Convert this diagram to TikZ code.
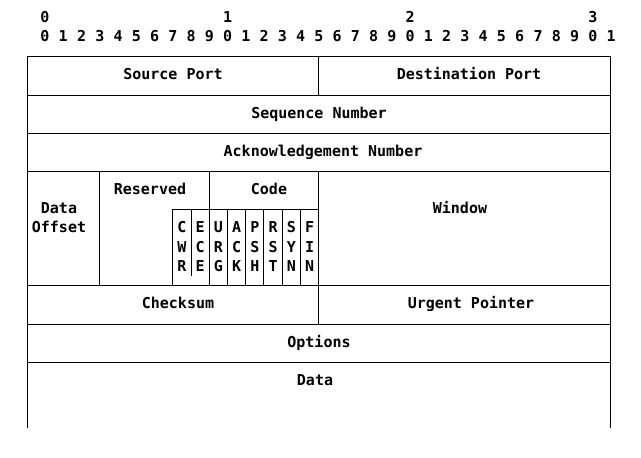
\documentclass[tikz,border=0pt]{standalone}
\usepackage{fontspec}
\setmonofont{DejaVu Sans Mono}
\begin{document}
\begin{tikzpicture}[x=1pt,y=-1pt,
  lbl/.style={font=\ttfamily\bfseries\fontsize{15}{18}\selectfont,inner sep=0pt,text height=10.9pt,text depth=0pt,anchor=center},
  grid/.style={line width=1pt,black}]
\useasboundingbox (0,0) rectangle (641,458);
\def\bx#1{27+18.23*#1}
% bit numbers
\foreach \t/\k in {0/0,1/10,2/20,3/30}
  \node[lbl] (ten\k) at ({45+18.26*\k},17) {\t};
\foreach \k in {0,...,31}{
  \pgfmathtruncatemacro{\d}{mod(\k,10)}
  \node[lbl] (bit\k) at ({45+18.26*\k},36) {\d};
}
% horizontal lines
\foreach \y in {56,95,133.5,171.7,285.7,324.2,362.4}
  \draw[grid] (27,\y) -- (610.3,\y);
\draw[grid] ({\bx{8}},209.3) -- ({\bx{16}},209.3);
% outer verticals
\draw[grid] (27,56) -- (27,428.3);
\draw[grid] (610.3,56) -- (610.3,428.3);
% inner verticals
\draw[grid] ({\bx{16}},56) -- ({\bx{16}},95);
\draw[grid] ({\bx{16}},171.7) -- ({\bx{16}},324.2);
\draw[grid] ({\bx{4}},171.7) -- ({\bx{4}},285.7);
\draw[grid] ({\bx{10}},171.7) -- ({\bx{10}},285.7);
\draw[grid] ({\bx{8}},209.3) -- ({\bx{8}},285.7);
\draw[grid] ({\bx{9}},209.3) -- ({\bx{9}},276);
\foreach \k in {11,...,15}
  \draw[grid] ({\bx{\k}},209.3) -- ({\bx{\k}},285.7);
% labels
\node[lbl] (src) at (173,74) {Source Port};
\node[lbl] (dst) at (469,74) {Destination Port};
\node[lbl] (seq) at (319,113) {Sequence Number};
\node[lbl] (ack) at (323,151.5) {Acknowledgement Number};
\node[lbl] (off1) at (59,208.5) {Data};
\node[lbl] (off2) at (59,227) {Offset};
\node[lbl] (res) at (150,189) {Reserved};
\node[lbl] (code) at (269,189) {Code};
\node[lbl] (win) at (460,208.5) {Window};
\node[lbl] (chk) at (178,303.5) {Checksum};
\node[lbl] (urg) at (471,303.5) {Urgent Pointer};
\node[lbl] (opt) at (319,342) {Options};
\node[lbl] (data) at (315,380) {Data};
% flags
\foreach \k/\a/\b/\c in {8/C/W/R,9/E/C/E,10/U/R/G,11/A/C/K,12/P/S/H,13/R/S/T,14/S/Y/N,15/F/I/N}{
  \node[lbl] (fa\k) at ({\bx{\k}+9.1},227.3) {\a};
  \node[lbl] (fb\k) at ({\bx{\k}+9.1},246.7) {\b};
  \node[lbl] (fc\k) at ({\bx{\k}+9.1},266.5) {\c};
}
\end{tikzpicture}
\end{document}
